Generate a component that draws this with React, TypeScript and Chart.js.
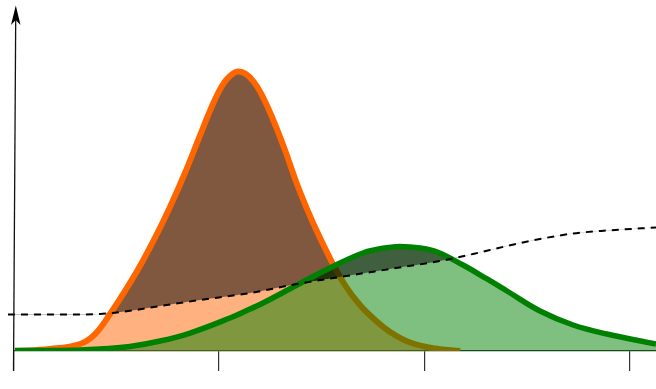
import React, { useEffect, useRef } from "react";
import { Chart, registerables } from "chart.js";

Chart.register(...registerables);

// Tick positions on the horizontal (time) axis
const xTicks = [0, 1, 2, 3];

// Unmitigated epidemic curve (orange)
const orangeX = [0.007, 0.178, 0.324, 0.397, 0.47, 0.543, 0.616, 0.689, 0.762, 0.835, 0.908, 0.967, 1.015, 1.054, 1.093, 1.132, 1.171, 1.21, 1.259, 1.322, 1.386, 1.459, 1.541, 1.614, 1.687, 1.761, 1.834, 1.931, 2.053, 2.175];
const orangeY = [0, 0.59, 2.06, 4.97, 10.88, 17.65, 25.0, 33.24, 42.35, 52.35, 63.38, 72.06, 77.94, 80.88, 82.21, 81.47, 79.12, 75.29, 68.82, 59.12, 48.24, 37.65, 27.35, 19.41, 13.53, 9.12, 5.59, 2.5, 0.74, 0];

// Mitigated (flattened) curve (green)
const greenX = [0.007, 0.178, 0.324, 0.421, 0.567, 0.714, 0.86, 1.054, 1.152, 1.215, 1.381, 1.541, 1.702, 1.809, 1.882, 1.98, 2.063, 2.189, 2.306, 2.403, 2.564, 2.725, 2.89, 3.129];
const greenY = [0.15, 0.15, 0.29, 0.59, 1.32, 2.94, 5.29, 9.71, 12.35, 14.12, 19.41, 24.41, 28.82, 30.29, 30.74, 30.29, 29.12, 25.29, 21.18, 17.65, 11.76, 7.65, 5.0, 2.06];

// Healthcare capacity (dashed)
const capacityX = [-0.027, 0.275, 0.421, 0.543, 0.714, 0.908, 1.152, 1.381, 1.59, 1.834, 2.077, 2.238, 2.403, 2.564, 2.725, 2.89, 3.129];
const capacityY = [10.74, 10.74, 10.88, 11.62, 13.24, 14.99, 17.06, 19.71, 21.76, 24.12, 26.47, 28.53, 30.88, 32.94, 34.56, 35.44, 36.32];

const toPoints = (xs: number[], ys: number[]) => xs.map((x, i) => ({ x, y: ys[i] }));

const ORANGE = "#ff6600";
const ORANGE_FILL = "rgba(255,102,0,0.5)";
const GREEN = "#008000";
const GREEN_FILL = "rgba(0,128,0,0.5)";
const SHADE = "rgba(0,0,0,0.5)";
const NONE = "rgba(0,0,0,0)";

const yAxisArrow = {
  id: "yAxisArrow",
  afterDraw(chart: any) {
    const ctx = chart.ctx;
    const x0 = chart.scales.x.getPixelForValue(0);
    const bottom = chart.chartArea.bottom + 20;
    ctx.save();
    ctx.strokeStyle = "#111";
    ctx.lineWidth = 1.3;
    ctx.beginPath();
    ctx.moveTo(x0, bottom);
    ctx.lineTo(x0 + 2.2, 20);
    ctx.stroke();
    ctx.fillStyle = "#000";
    ctx.beginPath();
    ctx.moveTo(x0 + 2.3, 5.5);
    ctx.lineTo(x0 + 7, 25);
    ctx.lineTo(x0 + 2.2, 20);
    ctx.lineTo(x0 - 2.5, 25);
    ctx.closePath();
    ctx.fill();
    ctx.restore();
  },
};

export default function App() {
  const ref = useRef<HTMLCanvasElement | null>(null);

  useEffect(() => {
    if (!ref.current) return;
    const common = {
      pointRadius: 0,
      pointHoverRadius: 0,
      tension: 0.4,
    };
    const chart = new Chart(ref.current, {
      type: "line",
      data: {
        datasets: [
          {
            ...common,
            label: "capacity",
            data: toPoints(capacityX, capacityY),
            cubicInterpolationMode: "monotone",
            borderColor: "#000",
            borderWidth: 2,
            borderDash: [7, 6],
            fill: false,
            clip: false,
            order: 0,
          },
          {
            ...common,
            label: "green line",
            data: toPoints(greenX, greenY),
            borderColor: GREEN,
            borderWidth: 5.5,
            fill: false,
            order: 1,
          },
          {
            ...common,
            label: "green over capacity",
            data: toPoints(greenX, greenY),
            borderColor: NONE,
            borderWidth: 0,
            fill: { target: 0, above: SHADE, below: NONE },
            order: 2,
          },
          {
            ...common,
            label: "green area",
            data: toPoints(greenX, greenY),
            borderColor: NONE,
            borderWidth: 0,
            backgroundColor: GREEN_FILL,
            fill: "origin",
            order: 3,
          },
          {
            ...common,
            label: "orange line",
            data: toPoints(orangeX, orangeY),
            borderColor: ORANGE,
            borderWidth: 6,
            fill: false,
            order: 4,
          },
          {
            ...common,
            label: "orange over capacity",
            data: toPoints(orangeX, orangeY),
            borderColor: NONE,
            borderWidth: 0,
            fill: { target: 0, above: SHADE, below: NONE },
            order: 5,
          },
          {
            ...common,
            label: "orange area",
            data: toPoints(orangeX, orangeY),
            borderColor: NONE,
            borderWidth: 0,
            backgroundColor: ORANGE_FILL,
            fill: "origin",
            order: 6,
          },
        ],
      },
      options: {
        responsive: false,
        animation: false,
        devicePixelRatio: 1,
        layout: { padding: { left: 13.5, right: 0, top: 11, bottom: 0 } },
        plugins: {
          legend: { display: false },
          tooltip: { enabled: false },
        },
        scales: {
          x: {
            type: "linear",
            min: 0,
            max: 3.129,
            position: "bottom",
            grid: {
              drawOnChartArea: false,
              drawTicks: true,
              tickLength: 20,
              color: "#333",
              lineWidth: 1.2,
            },
            border: { display: true, color: "#222", width: 1.2 },
            ticks: { display: false },
            afterBuildTicks: (scale: any) => {
              scale.ticks = xTicks.map((v) => ({ value: v }));
            },
            afterFit: (scale: any) => {
              scale.height = 38;
            },
          },
          y: {
            type: "linear",
            display: false,
            min: 0,
            max: 100,
          },
        },
      },
      plugins: [yAxisArrow],
    });
    return () => chart.destroy();
  }, []);

  return (
    <div style={{ position: "absolute", left: 0, top: 0, width: 656, height: 389, background: "#fff" }}>
      <canvas ref={ref} width={656} height={389} style={{ display: "block" }} />
    </div>
  );
}
